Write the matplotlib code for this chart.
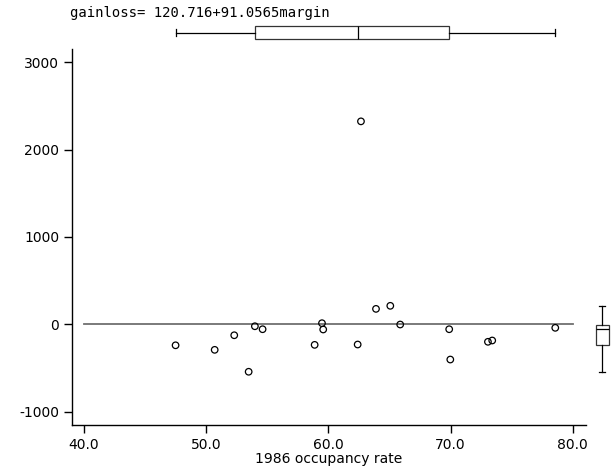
import numpy as np
import matplotlib
matplotlib.use("Agg")
import matplotlib.pyplot as plt

plt.rcParams["axes.unicode_minus"] = False

# data
occupancy = [47.50, 50.70, 52.30, 53.48, 53.99, 54.62, 58.88, 59.48, 59.58, 62.40,
             62.67, 63.90, 65.07, 65.88, 69.89, 69.98, 73.06, 73.41, 78.57]
gainloss = [-240, -292, -125, -543, -22, -56, -235, 13, -59, -231,
            2324, 177, 212, -2, -56, -403, -200, -185, -40]
line_x = [40, 80]
line_y = [0, 0]
title_text = "gainloss= 120.716+91.0565margin"
xticks = [40, 50, 60, 70, 80]
xticklabels = ["40.0", "50.0", "60.0", "70.0", "80.0"]
yticks = [-1000, 0, 1000, 2000, 3000]
xlabel = "1986 occupancy rate"

W, H = 613, 469
fig = plt.figure(figsize=(W / 100, H / 100), dpi=100)

def px_rect(x0, y0, x1, y1):
    return [x0 / W, 1 - y1 / H, (x1 - x0) / W, (y1 - y0) / H]

ax = fig.add_axes(px_rect(71.7, 49.3, 585.7, 425.3))
ax.scatter(occupancy, gainloss, s=22, facecolors="none", edgecolors="black", linewidths=0.9, zorder=3)
ax.plot(line_x, line_y, color="#707070", lw=1.3, zorder=2)
ax.set_xlim(39.0, 81.06)
ax.set_ylim(-1156, 3149)
ax.spines["top"].set_visible(False)
ax.spines["right"].set_visible(False)
for s in ("left", "bottom"):
    ax.spines[s].set_linewidth(1.0)
ax.set_xticks(xticks)
ax.set_xticklabels(xticklabels)
ax.set_yticks(yticks)
ax.tick_params(axis="both", direction="out", length=6, width=1, labelsize=10, pad=3, colors="black")
ax.set_xlabel(xlabel, fontsize=10, labelpad=0)

def stats(vals):
    v = np.asarray(vals, float)
    q1, med, q3 = np.percentile(v, [25, 50, 75], method="inverted_cdf")
    iqr = q3 - q1
    lo = v[v >= q1 - 1.5 * iqr].min()
    hi = v[v <= q3 + 1.5 * iqr].max()
    return [dict(med=med, q1=q1, q3=q3, whislo=lo, whishi=hi, fliers=[])]

boxprops = dict(edgecolor="#333333", linewidth=0.9, facecolor="white")
lineprops = dict(color="black", linewidth=0.9)

# top box plot (x variable)
axt = fig.add_axes(px_rect(71.7, 22.7, 585.7, 42.7))
axt.bxp(stats(occupancy), positions=[0], widths=[1.3], vert=False, patch_artist=True,
        boxprops=boxprops, medianprops=lineprops, whiskerprops=lineprops,
        capprops=lineprops, capwidths=[0.75], showfliers=False)
axt.set_xlim(ax.get_xlim())
axt.set_ylim(-1, 1)
axt.axis("off")

# right box plot (y variable)
axr = fig.add_axes(px_rect(592, 49.3, 612, 425.3))
axr.bxp(stats(gainloss), positions=[0], widths=[1.3], vert=True, patch_artist=True,
        boxprops=boxprops, medianprops=lineprops, whiskerprops=lineprops,
        capprops=lineprops, capwidths=[0.55], showfliers=False)
axr.set_ylim(ax.get_ylim())
axr.set_xlim(-1, 1)
axr.axis("off")

fig.text(70 / W, 1 - 13.5 / H, title_text, fontsize=10, family="DejaVu Sans Mono",
         ha="left", va="center")

fig.savefig("out.png", dpi=100)
